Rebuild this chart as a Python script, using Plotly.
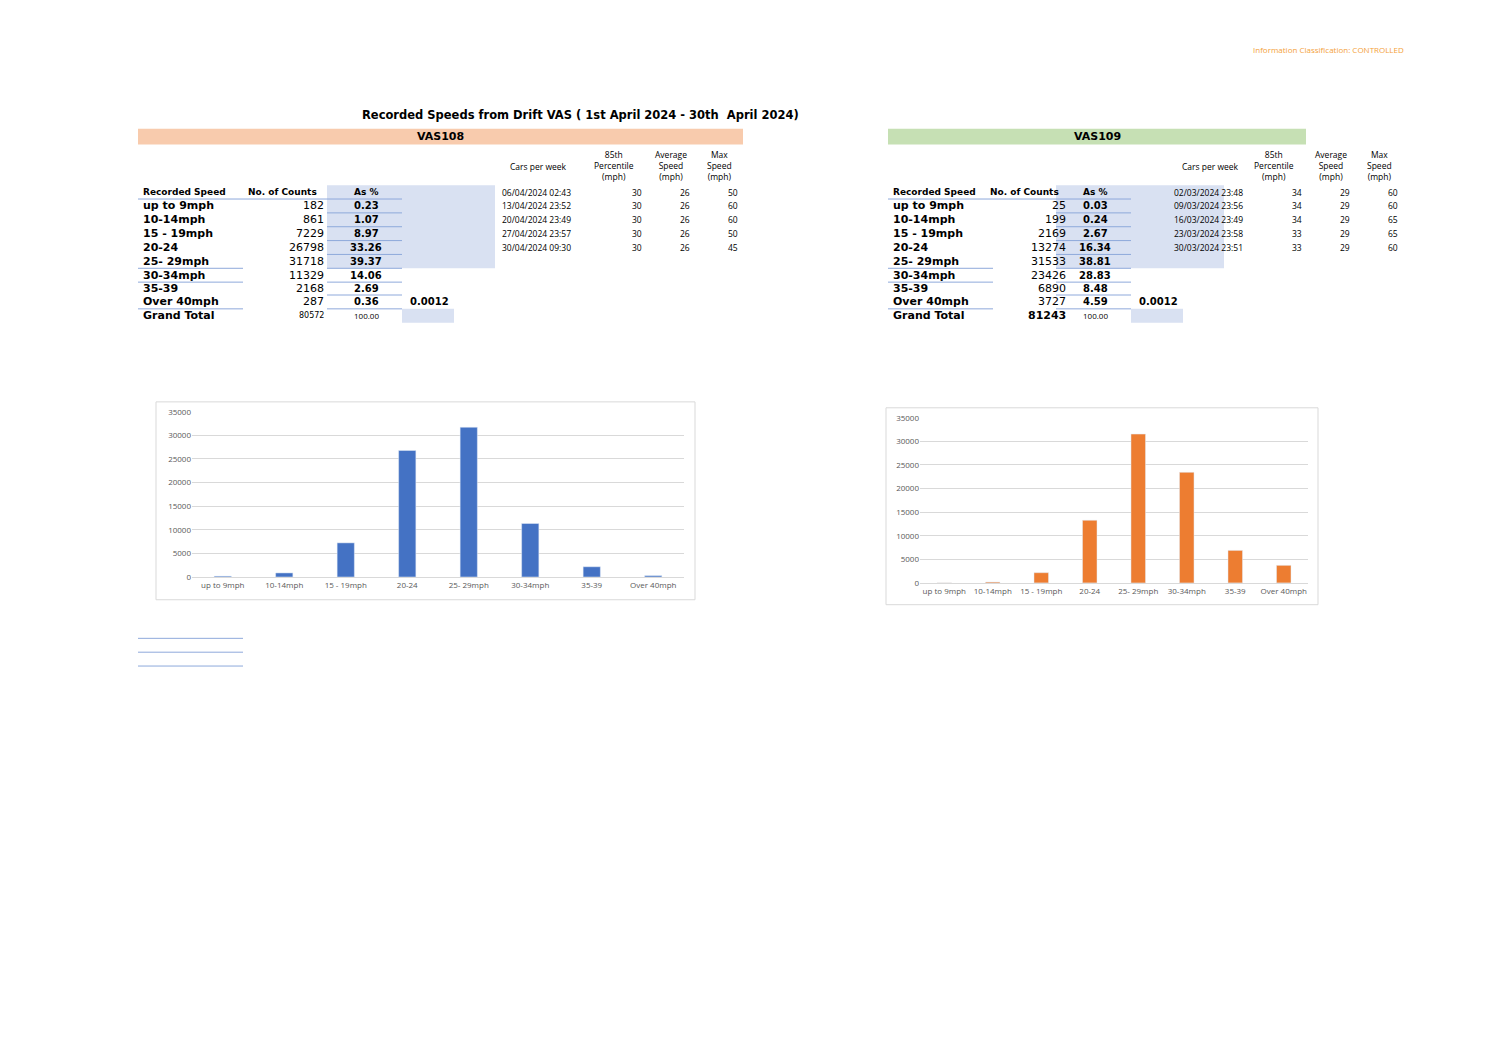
import plotly.graph_objects as go

W, H = 1497, 1058
FW, FH = W - 16, H - 16  # page body margin of 8px

table_labels = ['up to 9mph', '10-14mph', '15 - 19mph', '20-24', '25- 29mph', '30-34mph', '35-39', 'Over 40mph']
chart_labels = ['up to 9mph', '10-14mph', '15 - 19mph', '20-24', '25- 29mph', '30-34mph', '35-39', 'Over 40mph']

counts_108 = [182, 861, 7229, 26798, 31718, 11329, 2168, 287]
pct_108 = ['0.23', '1.07', '8.97', '33.26', '39.37', '14.06', '2.69', '0.36']
total_108 = '80572'
weeks_108 = ['06/04/2024 02:43', '13/04/2024 23:52', '20/04/2024 23:49', '27/04/2024 23:57', '30/04/2024 09:30']
p85_108 = [30, 30, 30, 30, 30]
avg_108 = [26, 26, 26, 26, 26]
max_108 = [50, 60, 60, 50, 45]

counts_109 = [25, 199, 2169, 13274, 31533, 23426, 6890, 3727]
pct_109 = ['0.03', '0.24', '2.67', '16.34', '38.81', '28.83', '8.48', '4.59']
total_109 = '81243'
weeks_109 = ['02/03/2024 23:48', '09/03/2024 23:56', '16/03/2024 23:49', '23/03/2024 23:58', '30/03/2024 23:51']
p85_109 = [34, 34, 34, 33, 33]
avg_109 = [29, 29, 29, 29, 29]
max_109 = [60, 60, 65, 65, 60]


def px(x):
    return (x - 8) / FW


def py(y):
    return 1 - (y - 8) / FH


fig = go.Figure()
shapes = []
ann = []


def text(x, y, s, size=11, bold=False, anchor='left', color='black', family='DejaVu Sans'):
    ann.append(dict(x=px(x), y=py(y), xref='paper', yref='paper', text='<b>%s</b>' % s if bold else s,
                    showarrow=False, xanchor=anchor, yanchor='middle',
                    font=dict(size=size, color=color, family=family)))


def rect(x0, y0, x1, y1, color, line=None):
    shapes.append(dict(type='rect', xref='paper', yref='paper', x0=px(x0), x1=px(x1), y0=py(y1), y1=py(y0),
                       fillcolor=color, line=dict(width=1, color=line) if line else dict(width=0), layer='below'))


def hline(x0, x1, y, color='#8EA9DB'):
    shapes.append(dict(type='line', xref='paper', yref='paper', x0=px(x0), x1=px(x1), y0=py(y), y1=py(y),
                       line=dict(width=1, color=color)))


def table(x0, hdr_x1, hdr_color, name, cols, counts, pct, total, weeks, p85, avg, mx, total_bold):
    lab, cnt, pc, dt, c85, cav, cmx = cols
    rect(x0, 124, hdr_x1, 140, hdr_color)
    text((x0 + hdr_x1) / 2, 132, name, 11, True, 'center')
    rect(pc - 39, 181, pc + 36, 265, '#D9E1F2')
    rect(pc + 36, 181, pc + 129, 265, '#D9E1F2')
    rect(pc + 36, 306, pc + 88, 320, '#D9E1F2')
    text(lab, 188, 'Recorded Speed', 9, True)
    text(cnt - 80, 188, 'No. of Counts', 9, True)
    text(pc, 188, 'As %', 9, True, 'center')
    hline(lab - 3, pc + 36, 195)
    rows = [202, 216, 230, 244, 258, 272, 285, 299]
    for i, r in enumerate(rows):
        text(lab, r, table_labels[i], 11, True)
        text(cnt, r, str(counts[i]), 11, False, 'right')
        text(pc, r, pct[i], 10, True, 'center')
        hline(pc - 39, pc + 36, r + 7)
    for r in (265, 279, 306):
        hline(lab - 3, lab + 102, r)
    text(pc + 63, 299, '0.0012', 10, True, 'center')
    text(lab, 313, 'Grand Total', 11, True)
    text(cnt, 313, total, 11 if total_bold else 8, total_bold, 'right')
    text(pc, 313, '100.00', 8, False, 'center', family='Open Sans')
    text(dt + 38, 162, 'Cars per week', 8.5, False, 'center', family='Open Sans')
    for xc, hd in ((c85 - 30, '85th<br>Percentile<br>(mph)'), (cav - 21, 'Average<br>Speed<br>(mph)'), (cmx - 21, 'Max<br>Speed<br>(mph)')):
        text(xc, 161, hd, 8.5, False, 'center', family='Open Sans')
    for i in range(5):
        r = 188 + 14 * i
        text(dt, r, weeks[i], 8.5, False, 'left', family='Open Sans')
        text(c85, r, str(p85[i]), 8.5, False, 'right', family='Open Sans')
        text(cav, r, str(avg[i]), 8.5, False, 'right', family='Open Sans')
        text(cmx, r, str(mx[i]), 8.5, False, 'right', family='Open Sans')


text(1406, 44, 'Information Classification: CONTROLLED', 8, False, 'right', '#F4A13A', 'Open Sans')
text(580, 110, 'Recorded Speeds from Drift VAS ( 1st April 2024 - 30th  April 2024)', 11.5, True, 'center')

table(138, 743, '#F8CBAD', 'VAS108', (141, 326, 366, 500, 644, 692, 740),
      counts_108, pct_108, total_108, weeks_108, p85_108, avg_108, max_108, False)
table(888, 1306, '#C6E0B4', 'VAS109', (891, 1068, 1095, 1172, 1304, 1352, 1400),
      counts_109, pct_109, total_109, weeks_109, p85_109, avg_109, max_109, True)

for y in (639, 653, 667):
    hline(138, 243, y)

# chart frames
rect(156, 400, 695, 600, 'white', '#D9D9D9')
rect(886, 406, 1318, 605, 'white', '#D9D9D9')

fig.add_trace(go.Bar(x=chart_labels, y=counts_108, marker_color='#4472C4', width=0.28, xaxis='x', yaxis='y'))
fig.add_trace(go.Bar(x=chart_labels, y=counts_109, marker_color='#ED7D31', width=0.3, xaxis='x2', yaxis='y2'))

axfont = dict(size=8, color='#595959', family='Open Sans')
xcommon = dict(tickfont=axfont, showline=True, linecolor='#D9D9D9', ticks='', showgrid=False, tickangle=0)
ycommon = dict(range=[0, 35000], dtick=5000, tickformat='d', tickfont=axfont, gridcolor='#D9D9D9',
               zeroline=False, showline=False, ticks='', ticklen=0)

fig.update_layout(
    width=FW, height=FH, margin=dict(l=0, r=0, t=0, b=0),
    plot_bgcolor='rgba(0,0,0,0)', paper_bgcolor='white', showlegend=False,
    shapes=shapes, annotations=ann,
    xaxis=dict(domain=[px(192), px(684)], anchor='y', **xcommon),
    yaxis=dict(domain=[py(577), py(410)], anchor='x', **ycommon),
    xaxis2=dict(domain=[px(920), px(1308)], anchor='y2', **xcommon),
    yaxis2=dict(domain=[py(583), py(416)], anchor='x2', **ycommon),
)

fig.write_html("out.html")
